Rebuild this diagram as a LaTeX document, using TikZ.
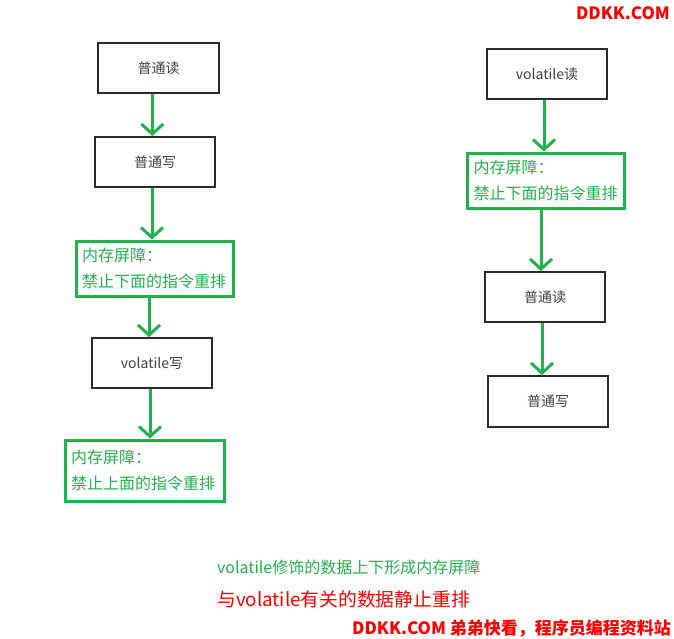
\documentclass[tikz,border=0pt]{standalone}
\usepackage{fontspec}
\setmainfont{Noto Sans CJK SC}
\newfontfamily\cjk{Noto Sans CJK SC}
\usetikzlibrary{arrows.meta}
\definecolor{gr}{RGB}{34,177,76}
\definecolor{rd}{RGB}{255,0,0}
\definecolor{bk}{RGB}{43,43,43}
\definecolor{tx}{RGB}{64,64,64}
\tikzset{
  plainbox/.style={draw=bk, line width=2pt, minimum width=120pt, minimum height=50pt, inner sep=0pt,
    text=tx, font=\cjk\fontsize{14}{16}\selectfont},
  barrier/.style={draw=gr, line width=3pt, text width=145pt, inner xsep=6pt, inner ysep=0pt,
    minimum height=55pt, align=left, text=gr, font=\cjk\fontsize{16}{26}\selectfont},
  arr/.style={draw=gr, line width=3pt, -{Straight Barb[length=10pt,width=22pt,line width=3pt]}},
}
\begin{document}
\begin{tikzpicture}[x=1pt,y=-1pt]
\useasboundingbox (0,0) rectangle (674,638);
% left column
\node[plainbox, minimum width=121pt] (a1) at (158.5,68) {普通读};
\node[plainbox] (a2) at (155,162) {普通写};
\node[barrier, minimum height=55pt] (g1) at (154.5,268.5) {内存屏障：\\禁止下面的指令重排};
\node[plainbox] (a3) at (152,363) {volatile写};
\node[barrier, minimum height=61pt, text width=147pt] (g2) at (144.5,470.5) {内存屏障：\\禁止上面的指令重排};
% right column
\node[plainbox] (b1) at (547,74) {volatile读};
\node[barrier] (gR) at (546,180.5) {内存屏障：\\禁止下面的指令重排};
\node[plainbox] (b2) at (545,297) {普通读};
\node[plainbox, minimum height=51pt] (b3) at (548,401.5) {普通写};
% arrows
\draw[arr] ([xshift=-6.2pt]a1.south) -- ([xshift=-2.7pt]a2.north);
\draw[arr] ([xshift=-3pt]a2.south) -- ([xshift=-2.5pt]g1.north);
\draw[arr] ([xshift=-5.5pt]g1.south) -- ([xshift=-3pt]a3.north);
\draw[arr] ([xshift=-2pt]a3.south) -- ([xshift=5.5pt]g2.north);
\draw[arr] ([xshift=-3pt]b1.south) -- ([xshift=-2pt]gR.north);
\draw[arr] ([xshift=-5pt]gR.south) -- ([xshift=-4pt]b2.north);
\draw[arr] ([xshift=-3pt]b2.south) -- ([xshift=-6pt]b3.north);
% captions
\node[anchor=west, inner sep=0pt, text=gr, font=\cjk\fontsize{16}{18}\selectfont] (c1) at (217,567) {volatile修饰的数据上下形成内存屏障};
\node[anchor=west, inner sep=0pt, text=rd, font=\cjk\fontsize{18.8}{20}\selectfont] (c2) at (217,599) {与volatile有关的数据静止重排};
\node[anchor=east, inner sep=0pt, text=rd, font=\cjk\bfseries\fontsize{17}{19}\selectfont] (w1) at (671,628) {DDKK.COM 弟弟快看，程序员编程资料站};
\node[anchor=east, inner sep=0pt, text=rd, font=\cjk\bfseries\fontsize{17}{19}\selectfont] (w2) at (670,13.5) {DDKK.COM};
\end{tikzpicture}
\end{document}
